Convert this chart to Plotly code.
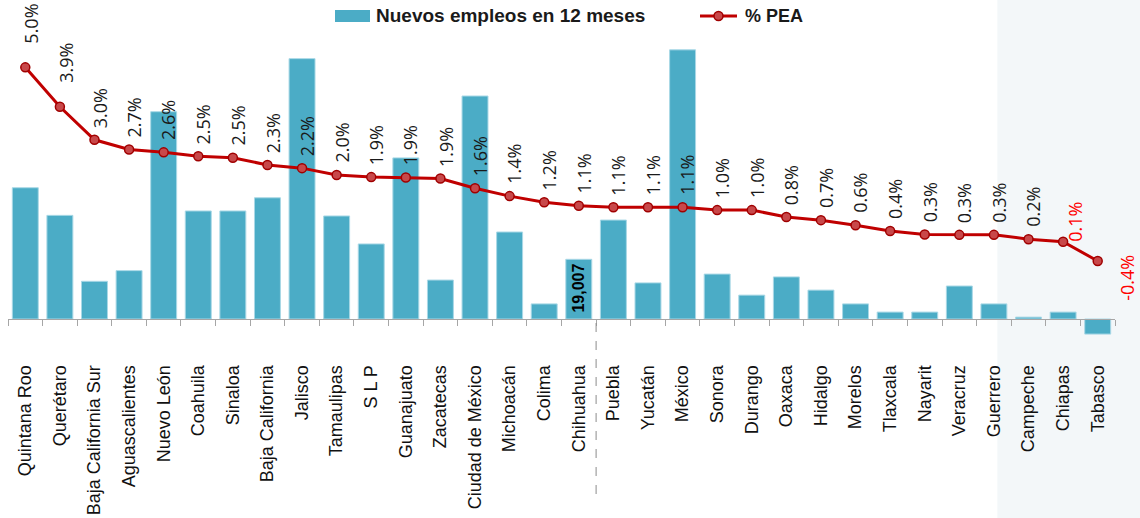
import plotly.graph_objects as go

# ---------------- data ----------------
states = ["Quintana Roo", "Querétaro", "Baja California Sur", "Aguascalientes", "Nuevo León",
          "Coahuila", "Sinaloa", "Baja California", "Jalisco", "Tamaulipas", "S L P",
          "Guanajuato", "Zacatecas", "Ciudad de México", "Michoacán", "Colima", "Chihuahua",
          "Puebla", "Yucatán", "México", "Sonora", "Durango", "Oaxaca", "Hidalgo", "Morelos",
          "Tlaxcala", "Nayarit", "Veracruz", "Guerrero", "Campeche", "Chiapas", "Tabasco"]

new_jobs = [41800, 33000, 12000, 15400, 66000, 34400, 34400, 38600, 82900, 32800, 23900,
            51300, 12400, 71000, 27700, 4800, 19007, 31500, 11500, 85700, 14300, 7600,
            13400, 9200, 4800, 2200, 2200, 10500, 4800, 600, 2200, -4800]

pct_pea = [5.0, 3.9, 2.98, 2.71, 2.63, 2.52, 2.48, 2.28, 2.19, 2.0, 1.94, 1.93, 1.9, 1.63,
           1.41, 1.24, 1.14, 1.1, 1.1, 1.1, 1.02, 1.02, 0.83, 0.74, 0.6, 0.44, 0.34, 0.33,
           0.33, 0.21, 0.14, -0.4]

bar_name = "Nuevos empleos en 12 meses"
line_name = "% PEA"
highlight_state = "Chihuahua"

# ---------------- geometry / style ----------------
W, H = 1140, 518
ML, MR, MT, MB = 8, 25, 40, 178
PW, PH = W - ML - MR, H - MT - MB
n = len(states)

BAR_COLOR = "#4BACC6"
LINE_COLOR = "#C00000"
MARK_COLOR = "#C8484A"
GRID_GRAY = "#A6A6A6"


def px_x(px):
    return (px - ML) / PW


def px_y(py):
    return (H - MB - py) / PH


def cat_x(v):
    return (v + 0.5) / n


# axis ranges chosen so zero of bars sits at pixel 319
y_zero_px = 319
jobs_per_px = 318.4
y1_range = [-(H - MB - y_zero_px) * jobs_per_px, (y_zero_px - MT) * jobs_per_px]
pct_zero_px = 246.7
px_per_pct = 35.87
y2_range = [-(H - MB - pct_zero_px) / px_per_pct, (pct_zero_px - MT) / px_per_pct]

fig = go.Figure()
fig.add_trace(go.Bar(
    x=states, y=new_jobs, name=bar_name, yaxis="y",
    marker=dict(color=BAR_COLOR, line=dict(color="#A9D8E6", width=1)),
    showlegend=False, hoverinfo="x+y",
))
fig.add_trace(go.Scatter(
    x=states, y=pct_pea, name=line_name, yaxis="y2", mode="lines+markers",
    line=dict(color=LINE_COLOR, width=3),
    marker=dict(size=9, color=MARK_COLOR, line=dict(color="#A00000", width=1.5)),
    cliponaxis=False, showlegend=False,
))

annotations = []
special = {0: dict(yshift=22, xshift=6), 1: dict(yshift=22, xshift=6)}
for i, (s, p) in enumerate(zip(states, pct_pea)):
    red = p < 0.15
    txt = f"{p:.1f}%"
    if p < 0:
        a = dict(xanchor="left", yanchor="middle", xshift=15, yshift=-17)
    elif red:
        a = dict(xanchor="center", yanchor="bottom", xshift=12, yshift=-2)
    else:
        a = dict(xanchor="center", yanchor="bottom", xshift=5, yshift=10)
        a.update(special.get(i, {}))
    annotations.append(dict(
        x=s, y=p, xref="x", yref="y2", text=txt, showarrow=False, textangle=-90,
        font=dict(family="Open Sans", size=18, color="#FF0000" if red else "#1A1A1A"),
        **a))

hi = states.index(highlight_state)
annotations.append(dict(
    x=states[hi], y=new_jobs[hi], xref="x", yref="y", text=f"<b>{new_jobs[hi]:,}</b>",
    showarrow=False, textangle=-90, xanchor="center", yanchor="top", yshift=-2,
    font=dict(family="Liberation Sans", size=16, color="#000000")))

# custom legend
annotations.append(dict(x=px_x(374), y=px_y(16), xref="paper", yref="paper",
                        text=f"<b>{bar_name}</b>", showarrow=False, xanchor="left",
                        yanchor="middle",
                        font=dict(family="Liberation Sans", size=19, color="#1A1A1A")))
annotations.append(dict(x=px_x(743), y=px_y(16), xref="paper", yref="paper",
                        text=f"<b>{line_name}</b>", showarrow=False, xanchor="left",
                        yanchor="middle",
                        font=dict(family="Liberation Sans", size=18, color="#1A1A1A")))

shapes = [
    # light shaded region on the right
    dict(type="rect", xref="paper", yref="paper", layer="below",
         x0=cat_x(28.1), x1=px_x(W + 5), y0=px_y(H + 5), y1=px_y(-5),
         fillcolor="#F3F7F9", line=dict(width=0)),
    # dashed separator after highlight state
    dict(type="line", xref="paper", yref="paper",
         x0=cat_x(hi + 0.5), x1=cat_x(hi + 0.5), y0=px_y(323), y1=px_y(502),
         line=dict(color="#8C8C8C", width=1, dash="dash")),
    # legend symbols
    dict(type="rect", xref="paper", yref="paper",
         x0=px_x(335), x1=px_x(370), y0=px_y(22), y1=px_y(10),
         fillcolor=BAR_COLOR, line=dict(width=0)),
    dict(type="line", xref="paper", yref="paper",
         x0=px_x(700), x1=px_x(737), y0=px_y(16), y1=px_y(16),
         line=dict(color=LINE_COLOR, width=3)),
    dict(type="circle", xref="paper", yref="paper",
         x0=px_x(714), x1=px_x(723), y0=px_y(20.5), y1=px_y(11.5),
         fillcolor=MARK_COLOR, line=dict(color="#A00000", width=1.5)),
]

fig.update_layout(
    width=W, height=H,
    margin=dict(l=ML, r=MR, t=MT, b=MB),
    paper_bgcolor="white", plot_bgcolor="rgba(0,0,0,0)",
    bargap=0.25,
    xaxis=dict(type="category", range=[-0.5, n - 0.5], tickangle=-90,
               tickson="boundaries", ticks="outside", ticklen=6, tickcolor=GRID_GRAY,
               showline=True, linecolor=GRID_GRAY, linewidth=1, showgrid=False,
               zeroline=False, anchor="free", position=px_y(y_zero_px),
               ticklabelstandoff=38, automargin=False,
               tickfont=dict(family="Liberation Sans", size=18, color="#111111")),
    yaxis=dict(range=y1_range, visible=False, showgrid=False, zeroline=False,
               automargin=False),
    yaxis2=dict(range=y2_range, overlaying="y", visible=False, showgrid=False,
                zeroline=False, automargin=False),
    annotations=annotations,
    shapes=shapes,
    showlegend=False,
)

fig.write_html("out.html", config={"displayModeBar": False},
               post_script="document.body.style.margin='0';document.body.style.overflow='hidden';")
